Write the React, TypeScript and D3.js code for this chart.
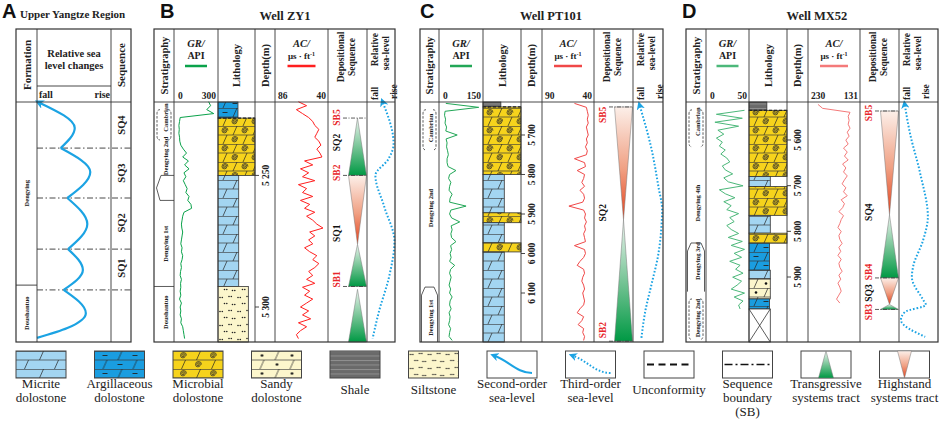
import React from "react";
import * as d3 from "d3";

const SERIF = "'Liberation Serif','Times New Roman',serif";
const SANS = "'Liberation Sans',Arial,sans-serif";
const HEAD_TOP = 29;
const HEAD_BOT = 102;
const BODY_BOT = 342;
const BLUE = "#1ba3e3";

// ---------- Panel A: Upper Yangtze Region (pos 0 = top of column, 100 = base; level 0 = fall, 1 = rise)
const aSeqBounds = [19.2, 40, 61.3, 78.3];
const aSeqLabels = [
  { name: "SQ4", pos: 9.6 },
  { name: "SQ3", pos: 29.6 },
  { name: "SQ2", pos: 50.4 },
  { name: "SQ1", pos: 69.2 },
];
const aFormations = [
  { name: "Dengying", mid: 38, base: 76.3 },
  { name: "Doushantuo", mid: 88, base: 100 },
];
const aSea = [
  { pos: 0.4, level: 0.04 },
  { pos: 10.8, level: 0.51 },
  { pos: 19.2, level: 0.32 },
  { pos: 29.2, level: 0.72 },
  { pos: 40, level: 0.41 },
  { pos: 50.8, level: 0.68 },
  { pos: 61.3, level: 0.42 },
  { pos: 70, level: 0.62 },
  { pos: 78.3, level: 0.36 },
  { pos: 88, level: 0.66 },
  { pos: 94.2, level: 0.41 },
  { pos: 98.3, level: 0.0 },
];

// ---------- Well ZY1
const zy1Range = [5222.1, 5313.3];
const zy1Ticks = [5250, 5300];
const zy1GR = [250, 265, 235, 290, 25, 20, 15, 18, 15, 20, 22, 30, 50, 75, 45, 90, 60, 95, 55, 70, 50, 65, 80, 70, 95, 85, 110, 115, 55, 45, 40, 35, 38, 45, 40, 35, 30, 40, 35, 45, 40, 30, 35, 28, 25, 35, 28, 30, 25, 30, 20, 35, 25, 30, 25, 35, 30, 45, 50, 55, 60];
const zy1AC = [66, 58, 68, 62, 56, 52, 50, 46, 48, 50, 46, 44, 48, 45, 43, 60, 52, 64, 56, 62, 50, 66, 58, 62, 52, 64, 55, 60, 50, 58, 52, 48, 42, 55, 50, 56, 52, 60, 55, 48, 52, 46, 50, 56, 52, 58, 50, 62, 55, 60, 52, 58, 64, 56, 62, 54, 66, 58, 64, 68, 66];
const zy1Lith = [
  { top: 5222.1, base: 5228.2, rock: "argillaceous" },
  { top: 5228.2, base: 5250, rock: "microbial" },
  { top: 5250, base: 5292.2, rock: "micrite" },
  { top: 5292.2, base: 5313.3, rock: "siltstone" },
];
const zy1Tracts = [
  { top: 5228.2, base: 5250, kind: "TST" },
  { top: 5250, base: 5276.2, kind: "HST" },
  { top: 5276.2, base: 5292.2, kind: "TST" },
  { top: 5293.3, base: 5313.3, kind: "TST" },
];
const zy1SeqLabels = [
  { d: 5228, t: "SB5" },
  { d: 5237.5, t: "SQ2" },
  { d: 5249, t: "SB2" },
  { d: 5272, t: "SQ1" },
  { d: 5289.5, t: "SB1" },
];
const zy1SB = [5228.2, 5250, 5292.2];
const zy1Sea = [
  { d: 5222.4, v: 0.57 },
  { d: 5238, v: 0.95 },
  { d: 5244, v: 0.75 },
  { d: 5250, v: 0.3 },
  { d: 5262, v: 0.62 },
  { d: 5275, v: 0.98 },
  { d: 5288, v: 0.8 },
  { d: 5302, v: 0.42 },
  { d: 5312, v: 0.2 },
];
const zy1Strat = [
  { name: "Cambrian", mid: 5228 },
  { name: "Dengying 2nd", mid: 5242.6 },
  { name: "Dengying 1st", mid: 5276 },
  { name: "Doushantuo", mid: 5302 },
];
const zy1Brackets = [{ top: 5225, base: 5236.5 }];
const zy1Marks = [
  { top: 5250, base: 5259.5, shape: "wedge" },
  { top: 5292.2, base: 5292.2, shape: "line" },
];

// ---------- Well PT101
const ptRange = [5616.5, 6224];
const ptTicks = [5700, 5800, 5900, 6000, 6100];
const ptGR = [15, 145, 12, 10, 14, 12, 18, 15, 60, 16, 20, 18, 22, 25, 20, 20, 24, 55, 30, 26, 35, 30, 28, 40, 32, 30, 95, 35, 30, 38, 70, 36, 40, 35, 38, 55, 34, 38, 32, 36, 30, 50, 34, 30, 36, 32, 28, 34, 30, 40, 32, 30, 36, 28, 32, 30, 26, 34, 30, 28, 40];
const ptAC = [58, 45, 44, 43, 44, 43, 45, 44, 43, 45, 44, 46, 44, 45, 58, 47, 46, 55, 47, 48, 50, 47, 52, 48, 47, 49, 64, 48, 46, 47, 45, 47, 46, 48, 47, 46, 58, 47, 46, 48, 52, 55, 48, 47, 49, 50, 48, 47, 49, 48, 47, 48, 52, 55, 48, 50, 54, 48, 49, 47, 48];
const ptLith = [
  { top: 5616.5, base: 5629, rock: "shale" },
  { top: 5629, base: 5800, rock: "microbial" },
  { top: 5800, base: 5897, rock: "micrite" },
  { top: 5897, base: 5922, rock: "microbial" },
  { top: 5922, base: 5973, rock: "micrite" },
  { top: 5973, base: 5996, rock: "microbial" },
  { top: 5996, base: 6224, rock: "micrite" },
];
const ptTracts = [
  { top: 5629, base: 5915, kind: "HST" },
  { top: 5915, base: 6222, kind: "TST" },
];
const ptSeqLabels = [
  { d: 5649, t: "SB5" },
  { d: 5897, t: "SQ2" },
  { d: 6194, t: "SB2" },
];
const ptSB = [5629, 6222];
const ptSea = [
  { d: 5627, v: 0.23 },
  { d: 5730, v: 0.6 },
  { d: 5832, v: 0.85 },
  { d: 5889, v: 0.97 },
  { d: 5930, v: 0.95 },
  { d: 6008, v: 0.83 },
  { d: 6074, v: 0.63 },
  { d: 6150, v: 0.4 },
  { d: 6214, v: 0.28 },
];
const ptStrat = [
  { name: "Cambrian", mid: 5682 },
  { name: "Dengying 2nd", mid: 5885 },
  { name: "Dengying 1st", mid: 6163 },
];
const ptBrackets = [{ top: 5636, base: 5738 }];
const ptMarks = [{ top: 6085, base: 6224, shape: "cap" }];

// ---------- Well MX52
const mxRange = [5516.8, 6042.3];
const mxTicks = [5600, 5700, 5800, 5900];
const mxGR = [48, 10, 45, 8, 40, 12, 20, 10, 18, 14, 22, 16, 24, 28, 18, 22, 32, 20, 26, 46, 14, 22, 35, 20, 30, 24, 40, 28, 34, 24, 30, 40, 26, 45, 30, 48, 34, 44, 28, 42, 36, 46, 32, 44, 38, 30, 48, 34, 46, 40, 42];
const mxAC = [215, 205, 146, 150, 148, 150, 146, 152, 148, 155, 150, 160, 152, 158, 150, 162, 155, 160, 152, 158, 163, 155, 160, 152, 165, 158, 162, 170, 160, 165, 168, 172, 165, 170, 168, 163, 170, 166, 172, 165, 170, 168, 163, 170, 166, 172, 168, 165, 170, 175, 168];
const mxLith = [
  { top: 5516.8, base: 5535, rock: "shale" },
  { top: 5535, base: 5680, rock: "microbial" },
  { top: 5680, base: 5702, rock: "micrite" },
  { top: 5702, base: 5765, rock: "microbial" },
  { top: 5765, base: 5804, rock: "micrite" },
  { top: 5804, base: 5826, rock: "microbial" },
  { top: 5826, base: 5885, rock: "argillaceous" },
  { top: 5885, base: 5904, rock: "micrite" },
  { top: 5904, base: 5948, rock: "sandy" },
  { top: 5948, base: 5970, rock: "argillaceous" },
  { top: 5970, base: 6042.3, rock: "nocore" },
];
const mxTracts = [
  { top: 5536.5, base: 5764, kind: "HST" },
  { top: 5764, base: 5902, kind: "TST" },
  { top: 5902, base: 5960, kind: "HST" },
  { top: 5960, base: 5971, kind: "TST" },
];
const mxSeqLabels = [
  { d: 5541, t: "SB5" },
  { d: 5758, t: "SQ4" },
  { d: 5889, t: "SB4" },
  { d: 5935, t: "SQ3" },
  { d: 5977, t: "SB3" },
];
const mxSB = [5536.5, 5902, 5971];
const mxSea = [
  { d: 5523.6, v: 0.15 },
  { d: 5584.8, v: 0.28 },
  { d: 5672, v: 0.54 },
  { d: 5768.6, v: 0.74 },
  { d: 5819, v: 0.62 },
  { d: 5878, v: 0.36 },
  { d: 5900, v: 0.33 },
  { d: 5950, v: 0.62 },
  { d: 5961, v: 0.69 },
  { d: 5976.5, v: 0.15 },
  { d: 5994, v: 0.05 },
  { d: 6031, v: 0.67 },
];
const mxStrat = [
  { name: "Cambrian", mid: 5560 },
  { name: "Dengying 4th", mid: 5738 },
  { name: "Dengying 3rd", mid: 5865 },
  { name: "Dengying 2nd", mid: 5990 },
];
const mxBrackets = [
  { top: 5534, base: 5615 },
  { top: 5948, base: 6037 },
];
const mxMarks = [{ top: 5825.5, base: 5932, shape: "cap" }];

const ROCK_FILL: Record<string, string> = {
  micrite: "#a3d5f1",
  argillaceous: "#1a9de0",
  microbial: "#f6d31c",
  sandy: "#fcf6cc",
  siltstone: "#fcf6cc",
  shale: "#6a6a6a",
  nocore: "#ffffff",
};
const ROCK_WIDTH: Record<string, number> = {
  micrite: 0.56,
  argillaceous: 0.54,
  microbial: 1,
  sandy: 0.56,
  siltstone: 0.82,
  shale: 0.47,
  nocore: 0.56,
};

const wells = [
  {
    letter: "B", letterX: 160, title: "Well ZY1", titleX: 285, x0: 154,
    cols: [20, 44, 37, 20, 53, 39, 28], range: zy1Range, ticks: zy1Ticks,
    gr: zy1GR, grStart: 5222, ac: zy1AC, acStart: 5222, step: 1.5,
    grMax: 300, acScale: [86, 40], lith: zy1Lith, unconf: 5228.2,
    tracts: zy1Tracts, seqLabels: zy1SeqLabels, sb: zy1SB, sea: zy1Sea,
    strat: zy1Strat, brackets: zy1Brackets, marks: zy1Marks,
    grColor: "#0aa24a", acColor: "#ff1f1f",
  },
  {
    letter: "C", letterX: 420, title: "Well PT101", titleX: 551, x0: 420,
    cols: [19, 44, 38, 21, 52, 39, 30], range: ptRange, ticks: ptTicks,
    gr: ptGR, grStart: 5620, ac: ptAC, acStart: 5620, step: 10,
    grMax: 150, acScale: [90, 40], lith: ptLith, unconf: 5629,
    tracts: ptTracts, seqLabels: ptSeqLabels, sb: ptSB, sea: ptSea,
    strat: ptStrat, brackets: ptBrackets, marks: ptMarks,
    grColor: "#22a757", acColor: "#f04848",
  },
  {
    letter: "D", letterX: 682, title: "Well MX52", titleX: 817, x0: 686,
    cols: [20, 43, 38, 21, 52, 39, 39], range: mxRange, ticks: mxTicks,
    gr: mxGR, grStart: 5535, ac: mxAC, acStart: 5522, step: 8.7,
    grMax: 50, acScale: [230, 131], lith: mxLith, unconf: 5535,
    tracts: mxTracts, seqLabels: mxSeqLabels, sb: mxSB, sea: mxSea,
    strat: mxStrat, brackets: mxBrackets, marks: mxMarks,
    grColor: "#4cb87a", acColor: "#f47a7a",
  },
];

const legendItems = [
  { kind: "micrite", label: ["Micrite", "dolostone"] },
  { kind: "argillaceous", label: ["Argillaceous", "dolostone"] },
  { kind: "microbial", label: ["Microbial", "dolostone"] },
  { kind: "sandy", label: ["Sandy", "dolostone"] },
  { kind: "shale", label: ["Shale"] },
  { kind: "siltstone", label: ["Siltstone"] },
  { kind: "second", label: ["Second-order", "sea-level"] },
  { kind: "third", label: ["Third-order", "sea-level"] },
  { kind: "unconf", label: ["Unconformity"] },
  { kind: "sb", label: ["Sequence", "boundary", "(SB)"] },
  { kind: "tst", label: ["Transgressive", "systems tract"] },
  { kind: "hst", label: ["Highstand", "systems tract"] },
];

// ---------- helpers
const rot = (x: number, y: number) => `translate(${x},${y}) rotate(-90)`;

function RT({ x, y, size = 10, anchor = "middle", fill = "#222", weight = "bold", children }: any) {
  return (
    <text transform={rot(x, y)} textAnchor={anchor} dominantBaseline="central"
      fontSize={size} fontWeight={weight} fill={fill}>{children}</text>
  );
}

function spiral(cx: number, cy: number) {
  // growing semicircles
  const steps: [number, number][] = [[0.6, cx + 1.2], [1.2, cx - 1.2], [1.8, cx + 2.4], [2.4, cx - 2.4], [3, cx + 3.6]];
  let d = `M${cx - 0.6},${cy}`;
  steps.forEach(([r, x]) => { d += `A${r},${r} 0 0 1 ${x - 0.6},${cy}`; });
  return d;
}

function RockPattern({ id, rock, w, ox = 0, oy = 0 }: any) {
  const h = 9;
  const fill = ROCK_FILL[rock];
  if (rock === "siltstone") {
    const pairs = [[2, 3.5], [11, 2.5], [6.5, 9.5], [14.5, 10.5]];
    return (
      <pattern id={id} patternUnits="userSpaceOnUse" x={ox} y={oy} width={18} height={14}>
        <rect width={18} height={14} fill={fill} />
        {pairs.map(([px, py], i) => (
          <g key={i} fill="#222">
            <circle cx={px} cy={py} r={0.8} />
            <circle cx={px + 2.3} cy={py} r={0.8} />
          </g>
        ))}
      </pattern>
    );
  }
  if (rock === "shale") {
    return (
      <pattern id={id} patternUnits="userSpaceOnUse" x={ox} y={oy} width={10} height={4.5}>
        <rect width={10} height={4.5} fill={fill} />
        <path d="M0,0.5H10" stroke="#9a9a9a" strokeWidth={0.8} />
      </pattern>
    );
  }
  const sl = (x: number, y0: number) => `M${x - 2},${y0 + h}L${x + 2},${y0}`;
  const a = 0.35 * w;
  const b = 0.85 * w;
  let deco: any = null;
  if (rock === "microbial") {
    deco = <path d={spiral(a, h / 2) + spiral(b, 1.5 * h)} fill="none" stroke="#2a2a2a" strokeWidth={0.75} />;
  } else if (rock === "argillaceous") {
    deco = <path d={`M${a - 2.5},${h / 2}H${a + 2.5}M${b - 2.5},${1.5 * h}H${b + 2.5}`} stroke="#222" strokeWidth={0.9} />;
  } else if (rock === "sandy") {
    deco = (
      <g fill="#111">
        <circle cx={a} cy={h / 2} r={1.3} />
        <circle cx={b} cy={1.5 * h} r={1.3} />
      </g>
    );
  }
  return (
    <pattern id={id} patternUnits="userSpaceOnUse" x={ox} y={oy} width={w} height={2 * h}>
      <rect width={w} height={2 * h} fill={fill} />
      <path d={`M0,0.4H${w}M0,${h}H${w}`} stroke="#3a3a3a" strokeWidth={0.7} />
      <path d={sl(b, 0) + sl(a, h)} stroke="#222" strokeWidth={0.7} />
      {deco}
    </pattern>
  );
}

// ---------- Panel A
function PanelA() {
  const L = 16, c1 = 37, c2 = 111, R = 131;
  const y = d3.scaleLinear().domain([0, 100]).range([HEAD_BOT, BODY_BOT]);
  const x = d3.scaleLinear().domain([0, 1]).range([c1, c2]);
  const line = d3.line<{ pos: number; level: number }>()
    .x((p) => x(p.level)).y((p) => y(p.pos)).curve(d3.curveMonotoneY);
  const cuts = [0, ...aSeqBounds, 100];
  const segs = cuts.slice(0, -1).map((t, i) => aSea.filter((p) => p.pos >= t && p.pos <= cuts[i + 1]));
  return (
    <g>
      <text x={2} y={18} fontFamily={SANS} fontWeight="bold" fontSize={20} fill="#111">A</text>
      <text x={20} y={18} fontWeight="bold" fontSize={11} fill="#222">Upper Yangtze Region</text>
      <RT x={26.5} y={65} size={11}>Formation</RT>
      <text x={74} y={57} textAnchor="middle" fontWeight="bold" fontSize={10.5} fill="#222">Relative sea</text>
      <text x={74} y={69} textAnchor="middle" fontWeight="bold" fontSize={10.5} fill="#222">level changes</text>
      <text x={39} y={98} fontWeight="bold" fontSize={10} fill="#222">fall</text>
      <text x={110} y={98} textAnchor="end" fontWeight="bold" fontSize={10} fill="#222">rise</text>
      <RT x={121} y={65} size={11}>Sequence</RT>
      {aFormations.map((f) => (
        <g key={f.name}>
          <RT x={26.5} y={y(f.mid)} size={6.5}>{f.name}</RT>
          {f.base < 100 && <line x1={L} x2={c1} y1={y(f.base)} y2={y(f.base)} stroke="#333" strokeWidth={0.9} />}
        </g>
      ))}
      {aSeqBounds.map((b) => (
        <line key={b} x1={c1} x2={R} y1={y(b)} y2={y(b)} stroke="#333" strokeWidth={0.9} strokeDasharray="6,2.5,1.5,2.5" />
      ))}
      {aSeqLabels.map((s) => <RT key={s.name} x={121} y={y(s.pos)} size={10.5}>{s.name}</RT>)}
      {segs.map((s, i) => (
        <path key={i} d={line(s) || ""} fill="none" stroke={BLUE} strokeWidth={2.2}
          markerStart={i === 0 ? "url(#arrow)" : undefined} />
      ))}
      <line x1={c1} x2={c2} y1={86} y2={86} stroke="#333" strokeWidth={0.9} />
      <line x1={L} x2={R} y1={HEAD_BOT} y2={HEAD_BOT} stroke="#333" strokeWidth={0.9} />
      {[c1, c2].map((cx) => <line key={cx} x1={cx} x2={cx} y1={HEAD_TOP} y2={BODY_BOT} stroke="#333" strokeWidth={0.9} />)}
      <rect x={L} y={HEAD_TOP} width={R - L} height={BODY_BOT - HEAD_TOP} fill="none" stroke="#333" strokeWidth={1.2} />
    </g>
  );
}

// ---------- Wells
function Well({ w }: any) {
  const xs: number[] = [w.x0];
  w.cols.forEach((c: number) => xs.push(xs[xs.length - 1] + c));
  const col = (i: number) => ({ l: xs[i], r: xs[i + 1], c: (xs[i] + xs[i + 1]) / 2 });
  const [st, gr, li, de, ac, sq, se] = [0, 1, 2, 3, 4, 5, 6].map(col);
  const right = xs[7];
  const y = d3.scaleLinear().domain(w.range).range([HEAD_BOT, BODY_BOT]);
  const gx = d3.scaleLinear().domain([0, w.grMax]).range([gr.l + 3, gr.r - 3]);
  const ax = d3.scaleLinear().domain(w.acScale).range([ac.l + 3, ac.r - 3]);
  const sx = d3.scaleLinear().domain([0, 1]).range([se.l, se.r]);
  const grPath = d3.line<number>().x((v) => gx(v)).y((v, i) => y(w.grStart + i * w.step))(w.gr) || "";
  const acPath = d3.line<number>().x((v) => ax(v)).y((v, i) => y(w.acStart + i * w.step))(w.ac) || "";
  const seaPath = d3.line<{ d: number; v: number }>().x((p) => sx(p.v)).y((p) => y(p.d))
    .curve(d3.curveMonotoneY)(w.sea) || "";
  const tcx = sq.r - 9.5, hw = 9;
  const lw = li.r - li.l;
  const fmtDepth = (t: number) => `${Math.floor(t / 1000)} ${String(t % 1000).padStart(3, "0")}`;
  const key = w.letter;
  const rocks = Array.from(new Set(w.lith.map((l: any) => l.rock))) as string[];

  return (
    <g>
      <defs>
        {rocks.filter((r) => r !== "nocore").map((r) => (
          <RockPattern key={r} id={`p-${key}-${r}`} rock={r} w={20} ox={li.l} oy={0} />
        ))}
      </defs>
      <text x={w.letterX} y={18} fontFamily={SANS} fontWeight="bold" fontSize={20} fill="#111">{w.letter}</text>
      <text x={w.titleX} y={20} textAnchor="middle" fontWeight="bold" fontSize={12.5} fill="#222">{w.title}</text>

      {/* header */}
      <RT x={st.c} y={65.5} size={10.5}>Stratigraphy</RT>
      <text x={gr.c} y={47} textAnchor="middle" fontWeight="bold" fontStyle="italic" fontSize={10.5} fill="#222">GR/</text>
      <text x={gr.c} y={59} textAnchor="middle" fontWeight="bold" fontSize={10} fill="#222">API</text>
      <line x1={gr.c - 11} x2={gr.c + 11} y1={66} y2={66} stroke={w.grColor} strokeWidth={2.5} />
      <text x={gr.l + 4} y={99} fontWeight="bold" fontSize={9.5} fill="#222">0</text>
      <text x={gr.r - 2} y={99} textAnchor="end" fontWeight="bold" fontSize={9.5} fill="#222">{w.grMax}</text>
      <RT x={li.c} y={65.5} size={10.5}>Lithology</RT>
      <RT x={de.c} y={65.5} size={10.5}>Depth(m)</RT>
      <text x={ac.c} y={47} textAnchor="middle" fontWeight="bold" fontStyle="italic" fontSize={10.5} fill="#222">AC/</text>
      <text x={ac.c} y={59} textAnchor="middle" fontWeight="bold" fontSize={9} fill="#222">
        μs · ft<tspan dy={-3.5} fontSize={6}>-1</tspan>
      </text>
      <line x1={ac.c - 14} x2={ac.c + 14} y1={66} y2={66} stroke={w.acColor} strokeWidth={2.5} />
      <text x={ac.l + 3} y={99} fontWeight="bold" fontSize={9.5} fill="#222">{w.acScale[0]}</text>
      <text x={ac.r - 2} y={99} textAnchor="end" fontWeight="bold" fontSize={9.5} fill="#222">{w.acScale[1]}</text>
      <RT x={sq.c - 7} y={57} size={9.5}>Depositional</RT>
      <RT x={sq.c + 4} y={57} size={9.5}>Sequence</RT>
      <RT x={se.l + 7.5} y={100} size={9.5} anchor="start">fall</RT>
      <RT x={se.l + 7.5} y={33} size={9.5} anchor="end">Relative</RT>
      <RT x={se.l + 19} y={36} size={9.5} anchor="end">sea-level</RT>
      <RT x={se.l + 26.5} y={99} size={9.5} anchor="start">rise</RT>

      {/* stratigraphy */}
      {w.strat.map((s: any) => <RT key={s.name} x={st.c + 1} y={y(s.mid)} size={6.5}>{s.name}</RT>)}
      {w.brackets.map((b: any, i: number) => {
        const t = y(b.top), bo = y(b.base);
        const l = st.l + 3, r = st.r - 3;
        return (
          <path key={i} fill="none" stroke="#333" strokeWidth={0.8} strokeDasharray="2.5,1.5"
            d={`M${l + 3},${t}Q${l},${t} ${l},${t + 4}L${l},${bo - 4}Q${l},${bo} ${l + 3},${bo}` +
              `M${r - 3},${t}Q${r},${t} ${r},${t + 4}L${r},${bo - 4}Q${r},${bo} ${r - 3},${bo}`} />
        );
      })}
      {w.marks.map((m: any, i: number) => {
        const t = y(m.top), bo = y(m.base);
        let d = `M${st.l},${t}H${st.r}`;
        if (m.shape === "cap") d = `M${st.l + 1.5},${bo}L${st.l + 1.5},${t + 8}L${st.l + 5},${t}L${st.r - 5},${t}L${st.r - 1.5},${t + 8}L${st.r - 1.5},${bo}`;
        if (m.shape === "wedge") d = `M${st.r},${t}L${st.l + 7},${t}L${st.l + 2.5},${(t + bo) / 2}L${st.l + 6},${bo}L${st.r},${bo}`;
        return <path key={i} d={d} fill="none" stroke="#333" strokeWidth={0.8} />;
      })}

      {/* GR */}
      <path d={grPath} fill="none" stroke={w.grColor} strokeWidth={1} strokeLinejoin="round" />

      {/* lithology */}
      {w.lith.map((u: any, i: number) => {
        const yt = y(u.top), yb = y(u.base);
        const ww = lw * ROCK_WIDTH[u.rock];
        if (u.rock === "nocore") {
          return (
            <g key={i}>
              <rect x={li.l} y={yt} width={ww} height={yb - yt} fill="#fff" stroke="#333" strokeWidth={0.8} />
              <path d={`M${li.l},${yt}L${li.l + ww},${yb}M${li.l + ww},${yt}L${li.l},${yb}`} stroke="#333" strokeWidth={0.8} />
            </g>
          );
        }
        return <rect key={i} x={li.l} y={yt} width={ww} height={yb - yt} fill={`url(#p-${key}-${u.rock})`} stroke="#333" strokeWidth={0.8} />;
      })}
      <line x1={li.l} x2={li.r} y1={y(w.unconf)} y2={y(w.unconf)} stroke="#222" strokeWidth={1.2} strokeDasharray="3,2" />

      {/* depth */}
      {w.ticks.map((t: number) => (
        <g key={t}>
          <line x1={de.l} x2={de.l + 4} y1={y(t)} y2={y(t)} stroke="#333" strokeWidth={0.9} />
          <RT x={de.l + 11} y={y(t)} size={9.5}>{fmtDepth(t)}</RT>
        </g>
      ))}

      {/* AC */}
      <path d={acPath} fill="none" stroke={w.acColor} strokeWidth={1} strokeLinejoin="round" />

      {/* depositional sequence */}
      {w.tracts.map((t: any, i: number) => {
        const yt = y(t.top), yb = y(t.base);
        const pts = t.kind === "TST"
          ? `${tcx},${yt} ${tcx + hw},${yb} ${tcx - hw},${yb}`
          : `${tcx - hw},${yt} ${tcx + hw},${yt} ${tcx},${yb}`;
        return <polygon key={i} points={pts} fill={t.kind === "TST" ? "url(#gTST)" : "url(#gHST)"} stroke="#777" strokeWidth={0.5} />;
      })}
      {w.sb.map((d: number, i: number) => (
        <line key={i} x1={sq.l + 15} x2={sq.r} y1={y(d)} y2={y(d)} stroke="#333" strokeWidth={0.8} strokeDasharray="4,1.5,1,1.5" />
      ))}
      {w.seqLabels.map((s: any) => (
        <RT key={s.t} x={sq.l + 8.5} y={y(s.d)} size={9.5} fill={s.t.startsWith("SB") ? "#e8262a" : "#111"}>{s.t}</RT>
      ))}

      {/* relative sea level */}
      <path d={seaPath} fill="none" stroke={BLUE} strokeWidth={2} strokeDasharray="1.6,1.9" markerStart="url(#arrow)" />

      {/* frame */}
      <line x1={w.x0} x2={right} y1={HEAD_BOT} y2={HEAD_BOT} stroke="#333" strokeWidth={0.9} />
      {xs.slice(1, -1).map((cx) => <line key={cx} x1={cx} x2={cx} y1={HEAD_TOP} y2={BODY_BOT} stroke="#333" strokeWidth={0.9} />)}
      <rect x={w.x0} y={HEAD_TOP} width={right - w.x0} height={BODY_BOT - HEAD_TOP} fill="none" stroke="#333" strokeWidth={1.2} />
    </g>
  );
}

// ---------- Legend
function Legend() {
  const by = 351, bw = 50, bh = 27;
  return (
    <g>
      <defs>
        {legendItems.slice(0, 6).map((it, i) => (
          <RockPattern key={it.kind} id={`leg-${it.kind}`} rock={it.kind} w={30} ox={16 + i * 78.5} oy={by} />
        ))}
      </defs>
      {legendItems.map((it, i) => {
        const bx = 16 + i * 78.5;
        const cx = bx + bw / 2;
        const ys = it.label.length === 1 ? [394] : it.label.length === 2 ? [388, 402] : [388, 402, 416];
        let icon: any = null;
        if (i < 6) icon = <rect x={bx} y={by} width={bw} height={bh} fill={`url(#leg-${it.kind})`} stroke="#444" strokeWidth={1} />;
        else {
          let inner: any = null;
          const my = by + bh / 2;
          if (it.kind === "second" || it.kind === "third") {
            inner = (
              <path d={`M${bx + 45},${by + 22}C${bx + 30},${by + 22} ${bx + 22},${by + 10} ${bx + 8},${by + 5}`}
                fill="none" stroke={BLUE} strokeWidth={2}
                strokeDasharray={it.kind === "third" ? "1.6,1.9" : undefined} markerEnd="url(#arrow)" />
            );
          } else if (it.kind === "unconf") {
            inner = <line x1={bx + 3} x2={bx + bw - 3} y1={my} y2={my} stroke="#111" strokeWidth={2} strokeDasharray="7,4.5" />;
          } else if (it.kind === "sb") {
            inner = <line x1={bx + 2} x2={bx + bw - 2} y1={my} y2={my} stroke="#111" strokeWidth={1.5} strokeDasharray="8,3,2,3" />;
          } else if (it.kind === "tst") {
            inner = <polygon points={`${cx},${by} ${cx + 7.5},${by + bh} ${cx - 7.5},${by + bh}`} fill="url(#gTST)" stroke="#777" strokeWidth={0.5} />;
          } else if (it.kind === "hst") {
            inner = <polygon points={`${cx - 7},${by} ${cx + 7},${by} ${cx},${by + bh}`} fill="url(#gHST)" stroke="#777" strokeWidth={0.5} />;
          }
          icon = (
            <g>
              <rect x={bx} y={by} width={bw} height={bh} fill="#fff" stroke="#444" strokeWidth={1} />
              {inner}
            </g>
          );
        }
        return (
          <g key={it.kind}>
            {icon}
            {it.label.map((t, j) => (
              <text key={j} x={cx} y={ys[j]} textAnchor="middle" fontSize={13} fill="#222">{t}</text>
            ))}
          </g>
        );
      })}
    </g>
  );
}

export default function App() {
  return (
    <svg width={941} height={421} viewBox="0 0 941 421" fontFamily={SERIF}
      style={{ position: "absolute", left: 0, top: 0, background: "#fff" }}>
      <defs>
        <marker id="arrow" viewBox="0 0 10 10" refX={4} refY={5} markerWidth={4.2} markerHeight={4.2}
          orient="auto-start-reverse" markerUnits="strokeWidth">
          <path d="M0,0L10,5L0,10L3,5Z" fill={BLUE} />
        </marker>
        <linearGradient id="gTST" x1="0" y1="0" x2="0" y2="1">
          <stop offset="0" stopColor="#eef5f0" />
          <stop offset="0.55" stopColor="#6cc08e" />
          <stop offset="1" stopColor="#009944" />
        </linearGradient>
        <linearGradient id="gHST" x1="0" y1="0" x2="0" y2="1">
          <stop offset="0" stopColor="#fcefe9" />
          <stop offset="0.55" stopColor="#f0a083" />
          <stop offset="1" stopColor="#e5401a" />
        </linearGradient>
      </defs>
      <rect width={941} height={421} fill="#fff" />
      <PanelA />
      {wells.map((w) => <Well key={w.letter} w={w} />)}
      <Legend />
    </svg>
  );
}
